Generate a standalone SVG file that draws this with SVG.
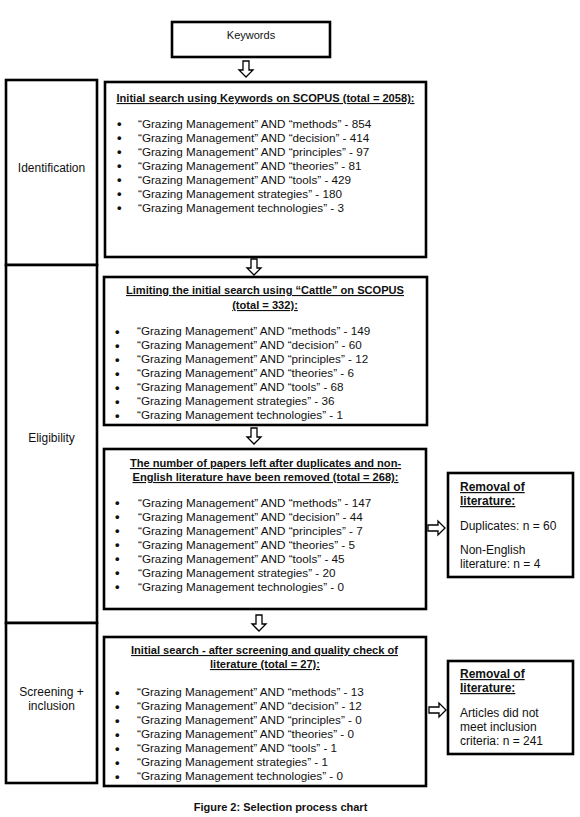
<svg xmlns="http://www.w3.org/2000/svg" width="580" height="817" viewBox="0 0 580 817">
<style>
.box{fill:#fff;stroke:#000;stroke-width:2.6}
.arr{fill:#fff;stroke:#000;stroke-width:1.3;stroke-linejoin:miter}
text{font-family:"Liberation Sans",Arial,sans-serif;fill:#111}
.t{font-size:11.7px}
.b{font-size:13px;font-weight:bold}
.h{font-size:11.1px;font-weight:bold;text-decoration:underline;text-anchor:middle}
.hl{font-size:12px;font-weight:bold;text-decoration:underline}
.r{font-size:12px}
.s{font-size:12px;text-anchor:middle}
.c{font-size:11px;font-weight:bold;text-anchor:middle}
</style>
<rect width="580" height="817" fill="#fff"/>

<g id="stages">
<rect class="box" x="6" y="80" width="91" height="185"/>
<rect class="box" x="6" y="265" width="91" height="358"/>
<rect class="box" x="6" y="623" width="91" height="160"/>
<text class="s" x="51.5" y="172">Identification</text>
<text class="s" x="51.5" y="442">Eligibility</text>
<text class="s" x="51.5" y="696">Screening +</text>
<text class="s" x="51.5" y="710">inclusion</text>
</g>

<g id="keywords">
<rect class="box" x="172" y="22" width="158" height="35"/>
<text class="s" style="font-size:11px" x="251" y="39">Keywords</text>
</g>

<g id="initial">
<rect class="box" x="105" y="82" width="321" height="175"/>
<text class="h" x="265.5" y="102">Initial search using Keywords on SCOPUS (total = 2058):</text>
<g class="t">
<text class="b" x="117" y="128">•</text><text x="138" y="127.5">“Grazing Management” AND “methods” - 854</text>
<text class="b" x="117" y="142">•</text><text x="138" y="141.5">“Grazing Management” AND “decision” - 414</text>
<text class="b" x="117" y="156">•</text><text x="138" y="155.5">“Grazing Management” AND “principles” - 97</text>
<text class="b" x="117" y="170">•</text><text x="138" y="169.5">“Grazing Management” AND “theories” - 81</text>
<text class="b" x="117" y="184">•</text><text x="138" y="183.5">“Grazing Management” AND “tools” - 429</text>
<text class="b" x="117" y="198">•</text><text x="138" y="197.5">“Grazing Management strategies” - 180</text>
<text class="b" x="117" y="212">•</text><text x="138" y="211.5">“Grazing Management technologies” - 3</text>
</g>
</g>

<g id="cattle">
<rect class="box" x="104" y="277" width="323" height="148"/>
<text class="h" x="265" y="294">Limiting the initial search using “Cattle” on SCOPUS</text>
<text class="h" x="265" y="309">(total = 332):</text>
<g class="t">
<text class="b" x="115" y="335.5">•</text><text x="137" y="335">“Grazing Management” AND “methods” - 149</text>
<text class="b" x="115" y="349.5">•</text><text x="137" y="349">“Grazing Management” AND “decision” - 60</text>
<text class="b" x="115" y="363.5">•</text><text x="137" y="363">“Grazing Management” AND “principles” - 12</text>
<text class="b" x="115" y="377.5">•</text><text x="137" y="377">“Grazing Management” AND “theories” - 6</text>
<text class="b" x="115" y="391.5">•</text><text x="137" y="391">“Grazing Management” AND “tools” - 68</text>
<text class="b" x="115" y="405.5">•</text><text x="137" y="405">“Grazing Management strategies” - 36</text>
<text class="b" x="115" y="419.5">•</text><text x="137" y="419">“Grazing Management technologies” - 1</text>
</g>
</g>

<g id="deduplicated">
<rect class="box" x="104" y="449" width="322" height="160"/>
<text class="h" x="265.5" y="467">The number of papers left after duplicates and non-</text>
<text class="h" x="265.5" y="481">English literature have been removed (total = 268):</text>
<g class="t">
<text class="b" x="115" y="507">•</text><text x="138" y="506.5">“Grazing Management” AND “methods” - 147</text>
<text class="b" x="115" y="521">•</text><text x="138" y="520.5">“Grazing Management” AND “decision” - 44</text>
<text class="b" x="115" y="535">•</text><text x="138" y="534.5">“Grazing Management” AND “principles” - 7</text>
<text class="b" x="115" y="549">•</text><text x="138" y="548.5">“Grazing Management” AND “theories” - 5</text>
<text class="b" x="115" y="563">•</text><text x="138" y="562.5">“Grazing Management” AND “tools” - 45</text>
<text class="b" x="115" y="577">•</text><text x="138" y="576.5">“Grazing Management strategies” - 20</text>
<text class="b" x="115" y="591">•</text><text x="138" y="590.5">“Grazing Management technologies” - 0</text>
</g>
</g>

<g id="removal1">
<rect class="box" x="448" y="473" width="125" height="104"/>
<text class="hl" x="460" y="491">Removal of</text>
<text class="hl" x="460" y="505">literature:</text>
<text class="r" x="460" y="530">Duplicates: n = 60</text>
<text class="r" x="460" y="554">Non-English</text>
<text class="r" x="460" y="568">literature: n = 4</text>
</g>

<g id="screened">
<rect class="box" x="104" y="637" width="322" height="149"/>
<text class="h" x="264.5" y="654">Initial search - after screening and quality check of</text>
<text class="h" x="265" y="668">literature (total = 27):</text>
<g class="t">
<text class="b" x="115" y="696.5">•</text><text x="137" y="696">“Grazing Management” AND “methods” - 13</text>
<text class="b" x="115" y="710.5">•</text><text x="137" y="710">“Grazing Management” AND “decision” - 12</text>
<text class="b" x="115" y="724.5">•</text><text x="137" y="724">“Grazing Management” AND “principles” - 0</text>
<text class="b" x="115" y="738.5">•</text><text x="137" y="738">“Grazing Management” AND “theories” - 0</text>
<text class="b" x="115" y="752.5">•</text><text x="137" y="752">“Grazing Management” AND “tools” - 1</text>
<text class="b" x="115" y="766.5">•</text><text x="137" y="766">“Grazing Management strategies” - 1</text>
<text class="b" x="115" y="780.5">•</text><text x="137" y="780">“Grazing Management technologies” - 0</text>
</g>
</g>

<g id="removal2">
<rect class="box" x="448" y="661" width="125" height="93"/>
<text class="hl" x="460" y="678">Removal of</text>
<text class="hl" x="460" y="692">literature:</text>
<text class="r" x="460" y="717">Articles did not</text>
<text class="r" x="460" y="731">meet inclusion</text>
<text class="r" x="460" y="745">criteria: n = 241</text>
</g>

<g id="connectors">
<path class="arr" d="M243,61 h6 v9 h4 l-7,7 l-7,-7 h4 z"/>
<path class="arr" d="M251,259 h6 v9 h4 l-7,7 l-7,-7 h4 z"/>
<path class="arr" d="M251,428 h6 v9 h4 l-7,7 l-7,-7 h4 z"/>
<path class="arr" d="M256,615 h6 v9 h4 l-7,7 l-7,-7 h4 z"/>
<path class="arr" d="M428,525 h10 v-4 l7,7 l-7,7 v-4 h-10 z"/>
<path class="arr" d="M429,707 h10 v-4 l7,7 l-7,7 v-4 h-10 z"/>
</g>

<text class="c" x="280.5" y="811">Figure 2: Selection process chart</text>
</svg>
